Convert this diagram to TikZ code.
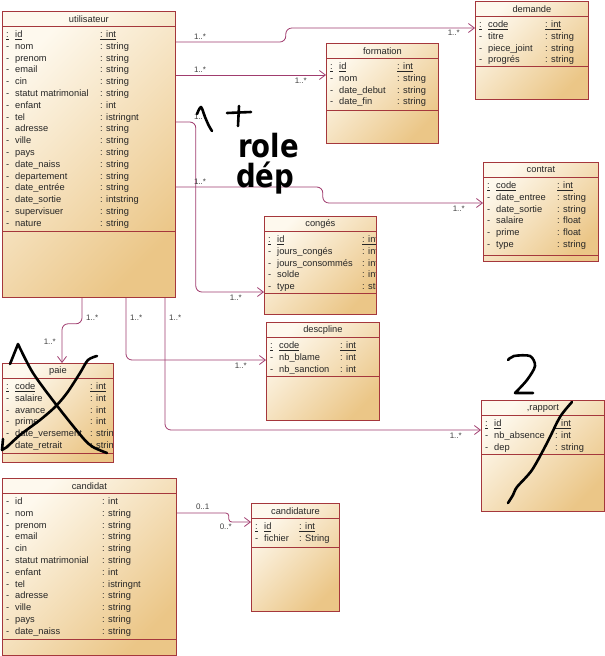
\documentclass[tikz,border=0pt]{standalone}
\usepackage{fontspec}
\setmainfont{Liberation Sans}
\newfontfamily\notefont{DejaVu Sans}
\usepackage{graphicx}
\usetikzlibrary{arrows.meta,positioning}

\definecolor{clsborder}{RGB}{165,55,60}
\definecolor{clslight}{RGB}{254,249,238}
\definecolor{clsdark}{RGB}{235,198,135}
\definecolor{assocline}{RGB}{160,60,110}

% classe : nom, x, y, largeur, hauteur, titre, ligne attributs, colonne type, attributs
\newcommand{\umlclass}[9]{%
  \node[classbox, minimum width=#4pt, minimum height=#5pt] (#1) at (#2,#3) {};
  \node[classtitle] (#1-title) at ([yshift=-8pt]#1.north) {#6};
  \draw[clsborder] ([yshift=-15.5pt]#1.north west) -- ([yshift=-15.5pt]#1.north east);
  \draw[clsborder] ([yshift=-#7pt]#1.north west) -- ([yshift=-#7pt]#1.north east);
  \begin{scope}
    \clip ([xshift=1pt]#1.north west) rectangle ([xshift=-1pt]#1.south east);
    \foreach \mk/\nm/\ty [count=\k] in {#9} {
      \node[attr] (#1-m\k) at ([xshift=4pt, yshift={-26.5pt-(\k-1)*11.8pt}]#1.north west) {\mk};
      \node[attr] (#1-n\k) at ([xshift=13pt, yshift={-26.5pt-(\k-1)*11.8pt}]#1.north west) {\nm};
      \node[attr] (#1-t\k) at ([xshift=#8pt, yshift={-26.5pt-(\k-1)*11.8pt}]#1.north west) {\ty};
    }
  \end{scope}
}

\begin{document}
\begin{tikzpicture}[
    x=1pt, y=-1pt,
    classbox/.style={draw=clsborder, line width=0.8pt, anchor=north west, inner sep=0pt,
      top color=clslight, bottom color=clsdark, shading angle=45},
    classtitle/.style={inner sep=0pt, font=\fontsize{9.3}{11}\selectfont, text=black!85},
    attr/.style={inner sep=0pt, anchor=base west, font=\fontsize{9.3}{11}\selectfont, text=black!85},
    assoc/.style={draw=assocline, line width=0.8pt, rounded corners=6pt,
      -{Straight Barb[length=6pt,width=9pt]}},
    mult/.style={inner sep=0pt, font=\fontsize{8}{9}\selectfont, text=black!75},
    scribble/.style={line width=2.6pt, line cap=round, line join=round, black}
  ]
  \useasboundingbox (0,0) rectangle (605,656);

  % les classes
  \umlclass{util}{2}{11}{173}{286}{utilisateur}{220}{98}{
    \underline{:}/\underline{id}/\underline{: int},
    -/nom/: string, -/prenom/: string, -/email/: string, -/cin/: string,
    -/statut matrimonial/: string, -/enfant/: int, -/tel/: istringnt,
    -/adresse/: string, -/ville/: string, -/pays/: string,
    -/date\_naiss/: string, -/departement/: string, -/date\_entrée/: string,
    -/date\_sortie/: intstring, -/supervisuer/: string, -/nature/: string}
  \umlclass{demande}{475}{1}{113}{98}{demande}{65}{70}{
    \underline{:}/\underline{code}/\underline{: int},
    -/titre/: string, -/piece\_joint/: string, -/progrés/: string}
  \umlclass{formation}{326}{43}{112}{100}{formation}{67}{71}{
    \underline{:}/\underline{id}/\underline{: int},
    -/nom/: string, -/date\_debut/: string, -/date\_fin/: string}
  \umlclass{contrat}{483}{162}{115}{99}{contrat}{93}{74}{
    \underline{:}/\underline{code}/\underline{: int},
    -/date\_entree/: string, -/date\_sortie/: string,
    -/salaire/: float, -/prime/: float, -/type/: string}
  \umlclass{conges}{264}{216}{112}{98}{congés}{77}{98}{
    \underline{:}/\underline{id}/\underline{: int},
    -/jours\_congés/: int, -/jours\_consommés/: int, -/solde/: int, -/type/: string}
  \umlclass{descipline}{266}{322}{113}{98}{descpline}{54}{74}{
    \underline{:}/\underline{code}/\underline{: int},
    -/nb\_blame/: int, -/nb\_sanction/: int}
  \umlclass{paie}{2}{363}{111}{99}{paie}{90}{88}{
    \underline{:}/\underline{code}/\underline{: int},
    -/salaire/: int, -/avance/: int, -/prime/: int,
    -/date\_versement/: string, -/date\_retrait/: string}
  \umlclass{rapport}{481}{400}{123}{111}{,rapport}{54}{74}{
    \underline{:}/\underline{id}/\underline{: int},
    -/nb\_absence/: int, -/dep/: string}
  \umlclass{candidat}{2}{478}{174}{177}{candidat}{161}{100}{
    -/id/: int, -/nom/: string, -/prenom/: string, -/email/: string, -/cin/: string,
    -/statut matrimonial/: string, -/enfant/: int, -/tel/: istringnt,
    -/adresse/: string, -/ville/: string, -/pays/: string, -/date\_naiss/: string}
  \umlclass{candidature}{251}{503}{88}{108}{candidature}{44}{48}{
    \underline{:}/\underline{id}/\underline{: int}, -/fichier/: String}

  % associations de utilisateur
  \draw[assoc] ([yshift=-31pt]util.north east) coordinate (u1) -- ++(110,0)
    |- ([yshift=-27pt]demande.north west) coordinate (d1);
  \node[mult, above right=2pt and 18pt of u1] (m1) {1..*};
  \node[mult, below left=2pt and 15pt of d1] (m2) {1..*};

  \draw[assoc] ([yshift=-64pt]util.north east) coordinate (u2)
    -- ([yshift=-32pt]formation.north west) coordinate (f1);
  \node[mult, above right=2pt and 18pt of u2] (m3) {1..*};
  \node[mult, below left=3pt and 19pt of f1] (m4) {1..*};

  \draw[assoc] ([yshift=-111pt]util.north east) coordinate (u3) -- ++(20,0)
    |- ([yshift=-76pt]conges.north west) coordinate (c1);
  \node[mult, above right=2pt and 18pt of u3] (m5) {1..*};
  \node[mult, below left=3pt and 22pt of c1] (m6) {1..*};

  \draw[assoc] ([yshift=-176pt]util.north east) coordinate (u4) -- ++(147,0)
    |- ([yshift=-41pt]contrat.north west) coordinate (k1);
  \node[mult, above right=2pt and 18pt of u4] (m7) {1..*};
  \node[mult, below left=3pt and 18pt of k1] (m8) {1..*};

  \draw[assoc] ([xshift=80pt]util.south west) coordinate (u5) -- ++(0,26)
    -| ([xshift=60pt]paie.north west) coordinate (p1);
  \node[mult, below right=17pt and 4pt of u5] (m9) {1..*};
  \node[mult, above left=18pt and 6pt of p1] (m10) {1..*};

  \draw[assoc] ([xshift=124pt]util.south west) coordinate (u6)
    |- ([yshift=-38pt]descipline.north west) coordinate (e1);
  \node[mult, below right=17pt and 4pt of u6] (m11) {1..*};
  \node[mult, below left=3pt and 19pt of e1] (m12) {1..*};

  \draw[assoc] ([xshift=163pt]util.south west) coordinate (u7)
    |- ([yshift=-30pt]rapport.north west) coordinate (r1);
  \node[mult, below right=17pt and 4pt of u7] (m13) {1..*};
  \node[mult, below left=3pt and 19pt of r1] (m14) {1..*};

  % candidat - candidature
  \draw[assoc, rounded corners=3pt] ([yshift=-35pt]candidat.north east) coordinate (a1) -- ++(52,0)
    |- ([yshift=-19pt]candidature.north west) coordinate (a2);
  \node[mult, above right=3pt and 19pt of a1] (m15) {0..1};
  \node[mult, below left=2pt and 19pt of a2] (m16) {0..*};

  % annotations a la main
  \draw[scribble] plot[smooth] coordinates {(197,114) (201,107) (205,117) (209,126) (212,131)};
  \draw[scribble] (227,113) -- (251,112) (239,106) -- (238,126);
  \node[anchor=base west, inner sep=0pt] (role) at (238,157)
    {\notefont\bfseries\fontsize{32}{32}\selectfont\scalebox{0.86}[1]{role}};
  \node[anchor=base west, inner sep=0pt] (dep) at (236,187)
    {\notefont\bfseries\fontsize{32}{32}\selectfont\scalebox{0.86}[1]{dép}};
  \draw[scribble] (10,364) -- (18,344)
    plot[smooth] coordinates {(18,344) (33,373) (58,407) (83,438) (93,447) (107,453)};
  \draw[scribble] plot[smooth] coordinates {(97,356) (88,360) (80,373) (67,393) (55,407) (40,420) (20,435) (7,447)}
    -- (2,450) -- (3,439);
  \draw[scribble] plot[smooth] coordinates {(508,360) (514,356) (530,356) (535,366) (527,380) (515,393)}
    -- (533,393);
  \draw[scribble] plot[smooth] coordinates {(572,402) (560,417) (547,443) (532,470) (517,487) (513,495) (508,503)};
\end{tikzpicture}
\end{document}
